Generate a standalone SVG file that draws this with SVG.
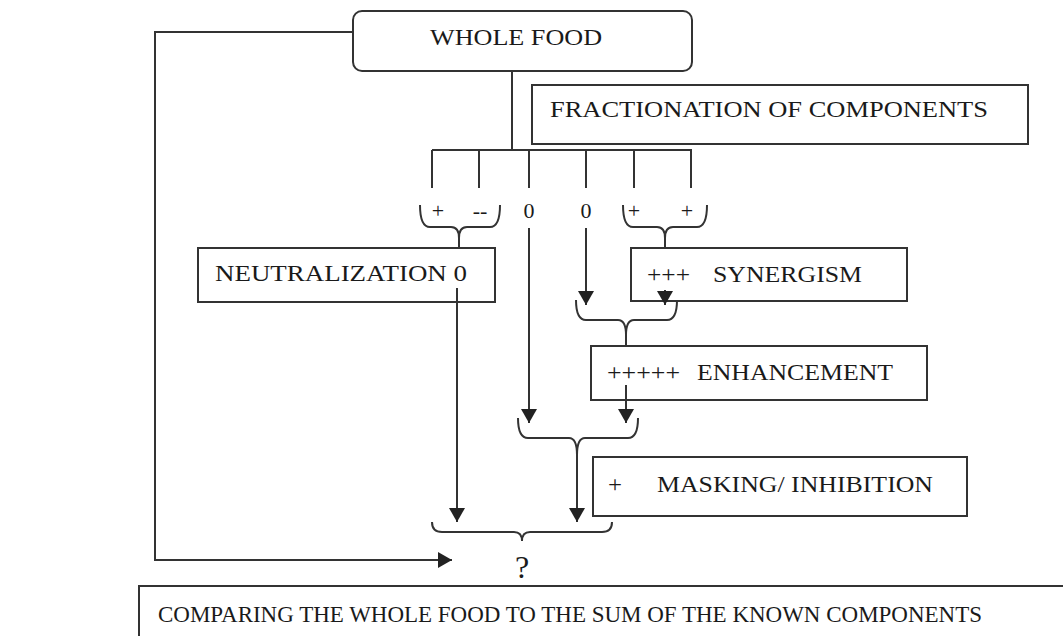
<svg xmlns="http://www.w3.org/2000/svg" width="1063" height="636" viewBox="0 0 1063 636">
<style>
.box{fill:#fff;stroke:#333;stroke-width:2}
.ln{fill:none;stroke:#333;stroke-width:2}
.t{font-family:"Liberation Serif","Times New Roman",serif;font-size:24px;fill:#1a1a1a}
.s{font-family:"Liberation Serif","Times New Roman",serif;font-size:22px;fill:#1a1a1a}
</style>
<defs>
<marker id="ah" viewBox="0 0 14 16" refX="14" refY="8" markerWidth="14" markerHeight="16" markerUnits="userSpaceOnUse" orient="auto">
<path d="M0,0 L14,8 L0,16 Z" fill="#222"/>
</marker>
</defs>
<rect width="1063" height="636" fill="#fff"/>
<g id="whole-food">
<rect class="box" x="353" y="11" width="339" height="60" rx="9"/>
<text class="t" x="430" y="45" textLength="172" lengthAdjust="spacingAndGlyphs">WHOLE FOOD</text>
</g>
<g id="fractionation">
<rect class="box" x="532" y="85" width="496" height="59"/>
<text class="t" x="550" y="117" textLength="438" lengthAdjust="spacingAndGlyphs">FRACTIONATION OF COMPONENTS</text>
</g>
<g id="labels">
<text class="s" x="438" y="218" text-anchor="middle">+</text>
<text class="s" x="480" y="218" text-anchor="middle">--</text>
<text class="s" x="529" y="218" text-anchor="middle">0</text>
<text class="s" x="586" y="218" text-anchor="middle">0</text>
<text class="s" x="634" y="218" text-anchor="middle">+</text>
<text class="s" x="687" y="218" text-anchor="middle">+</text>
</g>
<g id="neutralization">
<rect class="box" x="198" y="248" width="297" height="54"/>
<text class="t" x="215" y="281" textLength="252" lengthAdjust="spacingAndGlyphs">NEUTRALIZATION 0</text>
</g>
<g id="synergism">
<rect class="box" x="631" y="248" width="276" height="53"/>
<text class="t" x="647" y="282" textLength="43" lengthAdjust="spacingAndGlyphs">+++</text>
<text class="t" x="713" y="282" textLength="149" lengthAdjust="spacingAndGlyphs">SYNERGISM</text>
</g>
<g id="enhancement">
<rect class="box" x="591" y="346" width="336" height="54"/>
<text class="t" x="607" y="380" textLength="73" lengthAdjust="spacingAndGlyphs">+++++</text>
<text class="t" x="697" y="380" textLength="196" lengthAdjust="spacingAndGlyphs">ENHANCEMENT</text>
</g>
<g id="masking">
<rect class="box" x="593" y="457" width="374" height="59"/>
<text class="t" x="608" y="492" textLength="14" lengthAdjust="spacingAndGlyphs">+</text>
<text class="t" x="657" y="492" textLength="276" lengthAdjust="spacingAndGlyphs">MASKING/ INHIBITION</text>
</g>
<g id="result">
<text class="t" x="522" y="578" text-anchor="middle" style="font-size:32px">?</text>
</g>
<g id="comparison">
<rect class="box" x="139" y="586" width="950" height="80"/>
<text class="t" x="158" y="622" textLength="824" lengthAdjust="spacingAndGlyphs">COMPARING THE WHOLE FOOD TO THE SUM OF THE KNOWN COMPONENTS</text>
</g>
<g id="connectors">
<path class="ln" d="M352,32 H155 V560 H452" marker-end="url(#ah)"/>
<path class="ln" d="M512,72 V150 M432,150 H692 M432,150 V188 M479,150 V188 M529,150 V188 M586,150 V188 M634,150 V188 M691,150 V188"/>
<path class="ln" d="M420,205 Q420,227 430,227 L451,227 Q459,227 459,238 Q459,227 467,227 L490,227 Q500,227 500,205 M459,238 V247"/>
<path class="ln" d="M623,205 Q623,227 633,227 L657,227 Q665,227 665,238 Q665,227 673,227 L697,227 Q707,227 707,205 M665,238 V247"/>
<path class="ln" d="M576,300 Q576,320 586,320 L618,320 Q626,320 626,335 Q626,320 634,320 L667,320 Q677,320 677,300 M626,335 V345"/>
<path class="ln" d="M518,418 Q518,438 528,438 L569,438 Q577,438 577,455 Q577,438 585,438 L628,438 Q638,438 638,418"/>
<path class="ln" d="M432,522 Q432,532 442,532 L514,532 Q522,532 522,541 Q522,532 530,532 L602,532 Q612,532 612,522"/>
<path class="ln" d="M586,228 V305" marker-end="url(#ah)"/>
<path class="ln" d="M665,290 V305" marker-end="url(#ah)"/>
<path class="ln" d="M529,228 V423" marker-end="url(#ah)"/>
<path class="ln" d="M626,385 V423" marker-end="url(#ah)"/>
<path class="ln" d="M457,288 V522" marker-end="url(#ah)"/>
<path class="ln" d="M577,455 V522" marker-end="url(#ah)"/>
</g>
</svg>
